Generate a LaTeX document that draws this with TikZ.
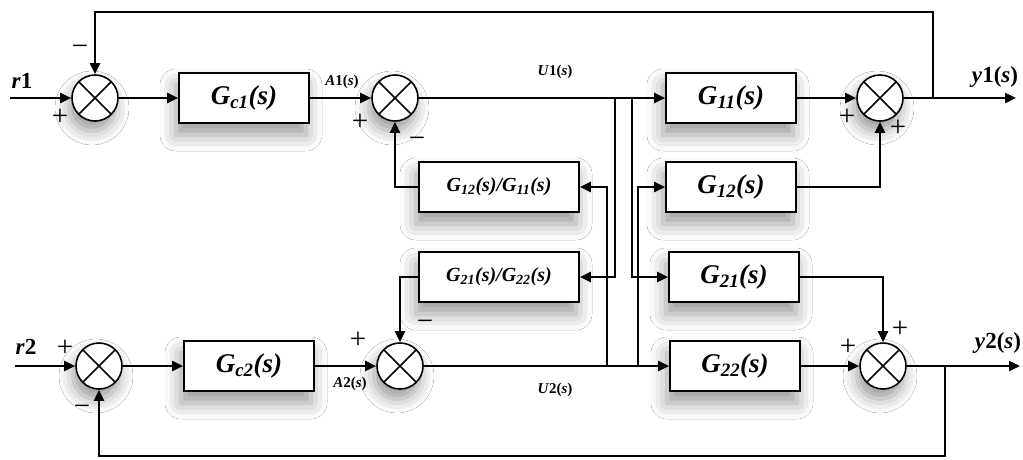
\documentclass[tikz,border=0pt]{standalone}
\usepackage{fontspec}
\setmainfont{Liberation Serif}
\usepackage{xcolor}
\usepackage{tikz}
\usetikzlibrary{arrows.meta,shadows.blur}
\definecolor{linecolor}{HTML}{000000}

\tikzset{
  blockbox/.style={draw=linecolor, line width=1.6pt, rectangle, fill=white, minimum width=130pt, minimum height=50pt, inner sep=0pt, font=\fontsize{27pt}{31pt}\selectfont\bfseries\itshape, blur shadow={shadow xshift=-3pt, shadow yshift=-12pt, shadow blur radius=16pt, shadow opacity=40}},
  smallbox/.style={blockbox, minimum width=160pt, font=\fontsize{20pt}{23pt}\selectfont\bfseries\itshape},
  sumnode/.style={draw=linecolor, line width=1.6pt, circle, fill=white, minimum size=46pt, inner sep=0pt, blur shadow={shadow xshift=-3pt, shadow yshift=-10pt, shadow blur radius=14pt, shadow opacity=40},
    path picture={\draw[line width=1.6pt] ([shift={(45:23pt)}]path picture bounding box.center) -- ([shift={(225:23pt)}]path picture bounding box.center); \draw[line width=1.6pt] ([shift={(135:23pt)}]path picture bounding box.center) -- ([shift={(315:23pt)}]path picture bounding box.center);}},
  conn/.style={draw=linecolor, line width=2.4pt},
  arr/.style={conn, -{Triangle[length=11pt,width=10pt]}},
  signlabel/.style={font=\fontsize{29pt}{33pt}\selectfont, inner sep=0pt},
  siglabel/.style={font=\fontsize{15pt}{17pt}\selectfont\bfseries, inner sep=0pt},
  iolabel/.style={font=\fontsize{23pt}{27pt}\selectfont\bfseries, inner sep=0pt}
}

\begin{document}
\begin{tikzpicture}[x=1pt, y=-1pt]%
\useasboundingbox[fill=white] (0,0) rectangle (1023,459);%
\node[blockbox] (gc1) at (244,98) {G\textsubscript{c1}(s)};%
\node[blockbox] (gc2) at (249,366) {G\textsubscript{c2}(s)};%
\node[blockbox] (g11) at (731,98) {G\textsubscript{11}(s)};%
\node[blockbox] (g12) at (731,187) {G\textsubscript{12}(s)};%
\node[blockbox] (g21) at (734,277) {G\textsubscript{21}(s)};%
\node[blockbox] (g22) at (735,366) {G\textsubscript{22}(s)};%
\node[smallbox] (g1211) at (499,187) {G\textsubscript{12}(s)/G\textsubscript{11}(s)};%
\node[smallbox] (g2122) at (499,277) {G\textsubscript{21}(s)/G\textsubscript{22}(s)};%
\node[sumnode] (sum1) at (95,98) {};%
\node[sumnode] (sum2) at (395,98) {};%
\node[sumnode] (sum3) at (880,98) {};%
\node[sumnode] (sum4) at (99,366) {};%
\node[sumnode] (sum5) at (400,366) {};%
\node[sumnode] (sum6) at (883,366) {};%
\coordinate (r1in) at (10,98);%
\coordinate (r2in) at (15,366);%
\coordinate (y1out) at (1016,98);%
\coordinate (y2out) at (1020,366);%
\coordinate (fb1) at (933,98);%
\coordinate (fb1top) at (933,12);%
\coordinate (fb2) at (945,366);%
\coordinate (fb2bot) at (945,456);%
\coordinate (u1a) at (615,98);%
\coordinate (u1b) at (632,98);%
\coordinate (u2a) at (607,366);%
\coordinate (u2b) at (638,366);%
\draw[arr] (r1in) -- (sum1);%
\draw[arr] (sum1) -- (gc1);%
\draw[arr] (gc1) -- (sum2);%
\draw[arr] (sum2) -- (g11);%
\draw[arr] (g11) -- (sum3);%
\draw[arr] (g12) -| (sum3);%
\draw[arr] (sum3) -- (y1out);%
\draw[arr] (fb1) -- (fb1top) -| (sum1);%
\draw[arr] (g1211) -| (sum2);%
\draw[arr] (r2in) -- (sum4);%
\draw[arr] (sum4) -- (gc2);%
\draw[arr] (gc2) -- (sum5);%
\draw[arr] (sum5) -- (g22);%
\draw[arr] (g22) -- (sum6);%
\draw[arr] (g21) -| (sum6);%
\draw[arr] (sum6) -- (y2out);%
\draw[arr] (fb2) -- (fb2bot) -| (sum4);%
\draw[arr] (g2122) -| (sum5);%
\draw[arr] (u1a) |- (g2122);%
\draw[arr] (u1b) |- (g21);%
\draw[arr] (u2a) |- (g1211);%
\draw[arr] (u2b) |- (g12);%
\node[iolabel] (r1lab) at (22,81) {\textit{r}1};%
\node[iolabel] (r2lab) at (26,347) {\textit{r}2};%
\node[iolabel] (y1lab) at (995,77) {\textit{y}1(\textit{s})};%
\node[iolabel] (y2lab) at (998,343) {\textit{y}2(\textit{s})};%
\node[siglabel] (a1lab) at (342,82) {\textit{A}1(\textit{s})};%
\node[siglabel] (a2lab) at (350,384) {\textit{A}2(\textit{s})};%
\node[siglabel] (u1lab) at (555,72) {\textit{U}1(\textit{s})};%
\node[siglabel] (u2lab) at (555,390) {\textit{U}2(\textit{s})};%
\node[signlabel] (s1a) at (80,50) {−};%
\node[signlabel] (s1b) at (60,117) {+};%
\node[signlabel] (s2a) at (360,122) {+};%
\node[signlabel] (s2b) at (417,142) {−};%
\node[signlabel] (s3a) at (847,117) {+};%
\node[signlabel] (s3b) at (898,128) {+};%
\node[signlabel] (s4a) at (65,348) {+};%
\node[signlabel] (s4b) at (82,410) {−};%
\node[signlabel] (s5a) at (358,340) {+};%
\node[signlabel] (s5b) at (425,325) {−};%
\node[signlabel] (s6a) at (848,347) {+};%
\node[signlabel] (s6b) at (900,329) {+};%
\end{tikzpicture}
\end{document}
